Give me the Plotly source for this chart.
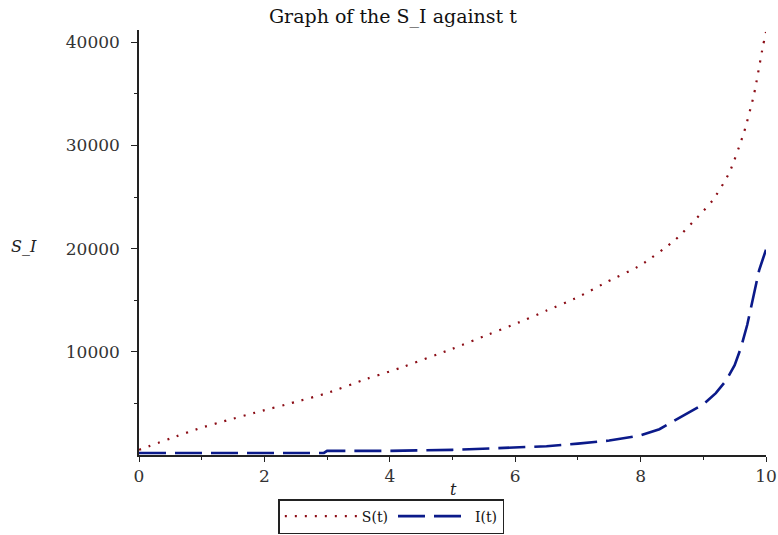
import plotly.graph_objects as go

t_S = [0, 0.5, 0.97, 1.4, 1.85, 2.5, 3.0, 3.64, 4.0, 4.17, 5.0, 5.58, 6.0, 6.5, 7.0, 7.47, 8.0, 8.56, 8.93, 9.15, 9.41, 9.65, 9.81, 9.95, 10.0]
S_vals = [500, 1600, 2600, 3350, 4100, 5150, 6000, 7400, 8100, 8450, 10300, 11700, 12700, 14000, 15300, 16800, 18400, 20900, 23200, 24700, 27300, 31300, 35000, 39600, 41000]

t_I = [0, 1, 2, 2.95, 3.0, 4.0, 5.0, 6.0, 6.5, 7.0, 7.5, 8.0, 8.3, 8.56, 8.8, 9.0, 9.2, 9.36, 9.5, 9.6, 9.7, 9.76, 9.83, 9.89, 9.95, 10.0]
I_vals = [200, 200, 200, 200, 400, 400, 500, 700, 850, 1100, 1400, 1900, 2500, 3400, 4200, 4900, 6000, 7200, 8700, 10400, 12600, 14300, 16000, 17900, 19000, 19900]

x_ticks = [0, 2, 4, 6, 8, 10]
y_ticks = [10000, 20000, 30000, 40000]

fig = go.Figure()
fig.add_trace(go.Scatter(x=t_S, y=S_vals, mode="lines", name="S(t)",
                         line=dict(color="#8b0d16", width=2.2, dash="2px,8px", shape="spline", smoothing=0.6)))
fig.add_trace(go.Scatter(x=t_I, y=I_vals, mode="lines", name="I(t)",
                         line=dict(color="#0b1a8a", width=2.6, dash="27px,9px")))

font_serif = "DejaVu Serif"
fig.update_layout(
    width=778, height=535,
    margin=dict(l=139, r=12, t=30, b=80),
    plot_bgcolor="white", paper_bgcolor="white",
    font=dict(family=font_serif, color="#222", size=15),
    title=dict(text="Graph of the S_I against t", x=0.505, xanchor="center",
               xref="container", yref="container", y=(535 - 16) / 535, yanchor="middle",
               font=dict(family=font_serif, size=19, color="#111")),
    showlegend=True,
    legend=dict(orientation="h", xref="container", x=0.503, xanchor="center", yref="container", y=1 / 535, yanchor="bottom",
                bordercolor="#222", borderwidth=1.5, font=dict(size=14, family=font_serif, color="#111"),
                tracegroupgap=0, itemwidth=72),
    xaxis=dict(range=[0, 10], tickvals=x_ticks, showgrid=False, zeroline=False, automargin=False,
               showline=True, linecolor="#222", linewidth=1.5,
               ticks="outside", ticklen=5, tickcolor="#222",
               minor=dict(tickvals=[1, 3, 5, 7, 9], ticks="outside", ticklen=3, tickcolor="#222"),
               tickfont=dict(size=17, family=font_serif, color="#333")),
    yaxis=dict(range=[0, 41200], tickvals=y_ticks, tickformat="d", showgrid=False, zeroline=False, automargin=False,
               showline=True, linecolor="#222", linewidth=1.5,
               ticks="outside", ticklen=6, tickcolor="#222", ticklabelstandoff=8,
               minor=dict(tickvals=[5000, 15000, 25000, 35000], ticks="outside", ticklen=3, tickcolor="#222"),
               tickfont=dict(size=17, family=font_serif, color="#333")),
)
fig.add_annotation(text="<i>S_I</i>", xref="paper", yref="paper", x=-0.207, y=0.49, xanchor="left", yanchor="middle",
                   showarrow=False, font=dict(size=16, family=font_serif, color="#222"))
fig.add_annotation(text="<i>t</i>", xref="paper", yref="paper", x=0.502, y=-0.082, xanchor="center", yanchor="middle",
                   showarrow=False, font=dict(size=16, family=font_serif, color="#222"))

fig.write_html("out.html")
